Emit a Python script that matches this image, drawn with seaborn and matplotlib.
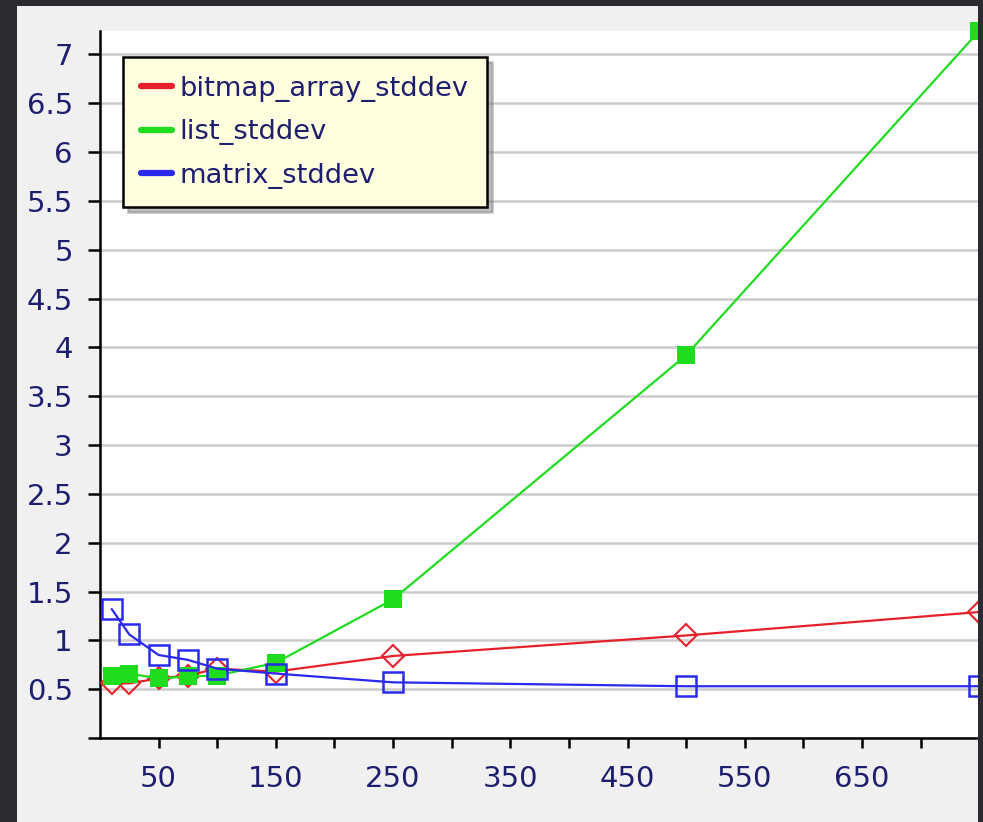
import matplotlib
matplotlib.use("Agg")
import matplotlib.pyplot as plt
from matplotlib.lines import Line2D
from matplotlib.patches import Rectangle
import pandas as pd
import seaborn as sns

# values
sizes = [10, 25, 50, 75, 100, 150, 250, 500, 750]
bitmap_array_stddev = [0.56, 0.56, 0.61, 0.64, 0.71, 0.68, 0.84, 1.05, 1.29]
list_stddev = [0.64, 0.66, 0.61, 0.63, 0.64, 0.77, 1.42, 3.92, 7.24]
matrix_stddev = [1.32, 1.06, 0.85, 0.80, 0.71, 0.66, 0.57, 0.53, 0.53]

series_names = ["bitmap_array_stddev", "list_stddev", "matrix_stddev"]
x_ticks = list(range(50, 750, 50))
x_major = [50, 150, 250, 350, 450, 550, 650]
y_ticks = [0, 0.5, 1, 1.5, 2, 2.5, 3, 3.5, 4, 4.5, 5, 5.5, 6, 6.5, 7]

colors = {"bitmap_array_stddev": "#e5202a",
          "list_stddev": "#1fdc1f",
          "matrix_stddev": "#2a2aee"}
text_color = "#1e1e6e"
dark = "#2c2b31"

sns.set_theme(style="white")
plt.rcParams["font.family"] = ["DejaVu Sans"]

W, H = 983, 822
fig = plt.figure(figsize=(W / 100, H / 100), dpi=100, facecolor=dark)
# light grey panel behind the chart
fig.patches.append(Rectangle((17 / W, 0), (978 - 17) / W, (822 - 6) / H,
                             transform=fig.transFigure, facecolor="#f0f0f0",
                             edgecolor="none", zorder=-10))

ax = fig.add_axes([100 / W, (822 - 738) / H, (978 - 100) / W, (738 - 31) / H])
ax.set_facecolor("white")

df = pd.DataFrame({"size": sizes,
                   "bitmap_array_stddev": bitmap_array_stddev,
                   "list_stddev": list_stddev,
                   "matrix_stddev": matrix_stddev})

sns.lineplot(data=df, x="size", y="bitmap_array_stddev", ax=ax,
             color=colors["bitmap_array_stddev"], lw=1.6, marker="D",
             markersize=11, markerfacecolor="none",
             markeredgecolor=colors["bitmap_array_stddev"], markeredgewidth=1.5,
             zorder=3, clip_on=False)
sns.lineplot(data=df, x="size", y="list_stddev", ax=ax,
             color=colors["list_stddev"], lw=1.6, marker="s",
             markersize=13.5, markerfacecolor=colors["list_stddev"],
             markeredgecolor=colors["list_stddev"], markeredgewidth=0,
             zorder=4, clip_on=False)
sns.lineplot(data=df, x="size", y="matrix_stddev", ax=ax,
             color=colors["matrix_stddev"], lw=1.6, marker="s",
             markersize=14, markerfacecolor="none",
             markeredgecolor=colors["matrix_stddev"], markeredgewidth=1.8,
             zorder=5, clip_on=False)

ax.set_xlim(0, 749)
ax.set_ylim(0, 7.24)
ax.set_xlabel("")
ax.set_ylabel("")

ax.set_xticks(x_ticks)
ax.set_xticklabels([str(v) if v in x_major else "" for v in x_ticks])
ax.set_yticks(y_ticks)
ax.set_yticklabels([f"{v:g}" if v > 0 else "" for v in y_ticks])

ax.yaxis.grid(True, color="#cccccc", lw=1.8)
ax.xaxis.grid(False)
ax.set_axisbelow(True)

for side in ["top", "right"]:
    ax.spines[side].set_visible(False)
for side in ["left", "bottom"]:
    ax.spines[side].set_color("black")
    ax.spines[side].set_linewidth(1.8)

ax.tick_params(axis="both", which="major", direction="out", bottom=True,
               left=True, width=1.8, color="black", labelcolor=text_color,
               labelsize=21)
ax.tick_params(axis="x", length=7.5, pad=12)
ax.tick_params(axis="y", length=8.6, pad=11)

handles = [Line2D([], [], color=colors[n], lw=4.5) for n in series_names]
leg = ax.legend(handles, series_names, loc="upper left",
                bbox_to_anchor=(0.026, 0.963), borderaxespad=0,
                frameon=True, fancybox=False,
                shadow={"ox": 3.5, "oy": -3.5, "color": "0.5"},
                facecolor="#ffffe0", edgecolor="black", framealpha=1,
                fontsize=19.7, handlelength=1.1, handletextpad=0.28,
                labelspacing=0.64, borderpad=0.68)
leg.get_frame().set_linewidth(1.8)
for t in leg.get_texts():
    t.set_color(text_color)

# dark screenshot edge on the right, over the clipped markers
fig.add_artist(Rectangle((978 / W, 0), 5 / W, 1, transform=fig.transFigure,
                         facecolor=dark, edgecolor="none", zorder=50))

fig.savefig("out.png", dpi=100, facecolor=fig.get_facecolor())
